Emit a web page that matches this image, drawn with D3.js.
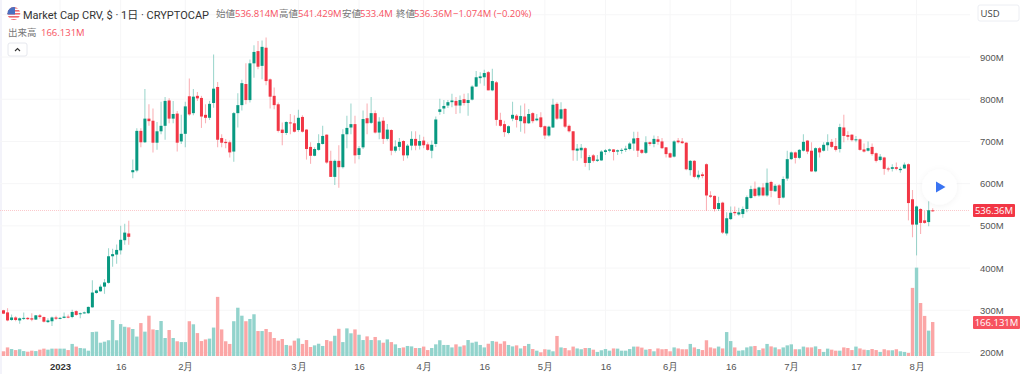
<!DOCTYPE html>
<html>
<head>
<meta charset="utf-8">
<script src="https://cdn.jsdelivr.net/npm/d3@7"></script>
<style>
    html, body {margin: 0; padding: 0; background: #fff;}
    svg {display: block; font-family: 'Open Sans', 'Noto Sans CJK JP', sans-serif;}
    .axis path, .axis line {display: none;}
    .axis text {fill: #555; font-size: 9.5px;}
</style>
</head>
<body>
<svg id="chart" width="1024" height="374"></svg>
<script>
const firstDay = '2022-12-18';

const opens = [
    300,295,277,283,276,280,282,281,278,288,284,272,274,283,280,282,285,284,298,291,293,293,307,341,345,356,365,428,432,442,466,482,
    627,631,725,698,754,749,697,724,737,797,754,766,700,718,807,767,808,803,763,756,791,829,708,699,698,676,
    767,786,836,798,885,914,879,922,847,808,788,728,720,745,743,727,758,728,687,666,680,694,716,654,616,654,639,
    717,733,741,668,686,755,744,767,721,749,706,727,678,687,701,667,690,706,690,702,693,678,694,770,778,785,793,796,785,800,
    791,799,830,850,852,864,821,840,751,741,720,754,761,748,759,743,767,750,757,736,714,733,789,754,777,737,724,678,679,684,
    649,667,654,655,675,678,681,676,678,680,682,695,708,680,673,698,694,705,
    700,686,672,664,702,700,697,632,654,615,622,646,572,571,540,555,482,516,533,527,528,540,566,588,572,591,572,604,582,596,
    567,612,658,674,661,678,702,678,629,684,678,691,699,689,682,733,715,716,703,705,681,678,687,672,656,662,636,635,639,632,
    636,646,563,503,540,513,509,536.814];
const highs = [
    301,305,290,286,283,295,284,293,289,291,285,281,285,287,284,295,290,301,300,295,297,309,371,349,361,374,447,446,456,500,505,512,
    657,731,731,824,788,778,746,794,805,802,796,772,763,794,849,824,817,808,788,796,906,841,717,706,702,770,
    814,846,885,894,928,938,939,946,849,828,792,745,748,765,762,775,762,729,698,686,717,737,717,678,657,691,729,
    761,790,761,689,773,790,805,773,757,757,741,729,703,708,703,694,724,724,716,711,698,702,759,801,798,798,813,805,809,813,
    814,833,867,864,870,867,872,843,768,749,738,794,765,785,790,777,769,765,769,738,737,801,793,793,779,740,725,694,694,686,
    668,670,668,679,682,683,682,681,684,690,698,723,723,682,712,700,714,713,
    708,687,674,703,708,708,698,656,656,631,627,648,582,572,569,557,532,546,546,543,546,572,595,605,593,601,636,607,599,599,
    617,678,676,676,682,717,703,698,686,687,698,717,706,708,742,763,724,717,713,707,695,700,695,674,670,664,640,646,650,640,
    650,648,585,548,542,536,558,541.429];
const lows = [
    291,274,275,274,268,277,277,274,277,280,271,270,263,277,279,281,281,281,287,281,292,292,306,339,344,339,363,403,410,432,455,455,
    613,627,686,696,737,674,680,717,704,743,743,676,694,686,761,762,796,732,743,751,780,686,686,684,662,652,
    733,773,788,792,851,871,847,833,778,776,721,691,715,717,721,723,721,657,647,665,678,693,647,616,597,590,636,
    684,717,648,658,682,717,741,719,705,694,702,667,674,678,654,660,679,679,681,684,678,660,687,763,765,779,781,765,767,785,
    761,797,829,837,832,821,819,737,735,711,717,748,733,723,719,741,743,748,732,706,711,732,751,752,732,721,654,654,660,640,
    632,650,651,654,668,674,655,668,671,675,679,678,663,670,670,690,686,692,
    682,662,661,662,695,694,632,619,613,610,613,536,566,534,535,481,477,514,524,524,519,532,564,568,569,570,569,568,580,550,
    565,607,656,648,658,676,670,628,627,662,676,678,684,676,674,698,703,700,698,678,674,676,666,650,653,621,629,629,632,626,
    635,513,473,430,481,505,499,533.4];
const closes = [
    292,276,283,277,281,282,279,278,288,284,273,276,283,280,282,285,283,296,289,293,295,308,342,347,356,366,428,433,443,467,484,474,
    632,725,698,754,748,697,724,737,796,754,765,697,718,783,764,806,802,759,756,789,825,704,697,696,674,767,
    786,838,798,885,912,877,924,843,806,786,725,720,746,743,723,756,723,682,666,682,696,713,650,616,654,639,717,
    732,741,667,684,753,743,767,721,747,706,728,678,688,699,667,690,706,690,701,691,680,692,752,776,784,793,797,785,798,791,
    798,830,852,854,862,821,843,751,737,722,736,763,751,760,743,765,748,754,734,714,735,787,754,776,735,724,679,683,685,649,
    663,654,657,676,679,681,675,679,680,683,695,707,678,673,698,694,706,699,
    684,670,662,700,698,696,634,654,616,621,618,572,569,540,554,484,518,531,530,532,540,568,587,571,591,572,602,583,595,566,
    611,658,674,661,680,699,676,629,684,674,692,698,687,680,734,713,711,703,705,680,676,684,670,654,664,635,634,639,635,635,
    645,554,503,546,507,507,537,536.36];
const volumes = [
    23,42,34,29,33,24,21,26,24,31,36,31,36,36,36,36,29,59,46,39,37,26,117,119,65,70,77,176,77,156,
    143,140,132,95,161,119,197,130,127,171,88,127,88,72,68,68,170,155,112,73,81,85,139,289,130,72,59,170,236,197,
    170,181,204,122,122,132,117,88,75,83,54,51,75,86,59,78,44,52,60,49,78,72,99,133,68,135,111,130,104,78,
    96,78,93,77,65,81,68,57,39,42,49,47,39,39,46,29,39,57,77,54,54,42,57,46,52,78,65,70,54,42,
    60,73,70,60,72,54,47,52,37,49,59,34,26,18,33,31,23,98,42,39,28,46,37,33,39,39,31,20,28,34,
    26,37,36,26,26,34,46,46,41,31,34,23,37,33,34,23,42,37,33,33,59,42,34,29,77,42,37,46,37,117,
    73,42,26,28,42,47,49,29,37,59,47,42,33,42,52,57,33,33,46,42,42,47,34,20,36,31,26,26,42,39,
    29,46,37,31,29,34,29,20,33,28,28,33,23,20,15,333,432,259,196,124,166.131];

const priceTicks = [200, 300, 400, 500, 600, 700, 800, 900];
const gridPrices = [200, 300, 400, 500, 600, 700, 800, 900, 1000];
const timeTicks = ['2023-01-01','2023-01-16','2023-02-01','2023-03-01','2023-03-16','2023-04-01','2023-04-16','2023-05-01','2023-05-16','2023-06-01','2023-06-16','2023-07-01','2023-07-17','2023-08-01'];
const timeLabels = ['2023','16','2月','3月','16','4月','16','5月','16','6月','16','7月','17','8月'];

const legendLabels = ['始値', '高値', '安値', '終値'];
const legendValues = ['536.814M', '541.429M', '533.4M', '536.36M'];
const lastPrice = 536.36;
const lastVolume = 166.131;

const width = 1024, height = 374;
const paneRight = 970;

const parseDay = d3.utcParse('%Y-%m-%d');
const days = d3.utcDay.range(parseDay(firstDay), d3.utcDay.offset(parseDay(firstDay), opens.length));

const xScale = d3.scaleUtc()
    .domain([days[0], days[days.length - 1]])
    .range([3.5, 932.7]);
const yScale = d3.scaleLinear()
    .domain([200, 900])
    .range([352.5, 57]);
const volScale = d3.scaleLinear()
    .domain([0, 460])
    .range([356, 261.9]);

const svg = d3.select('#chart');

const upColor = '#089981', downColor = '#f23645';
const isUp = i => closes[i] >= opens[i];

//faint edge on the left of the picture
svg.append('rect')
    .attr('width', 2).attr('height', height)
    .attr('fill', '#f3f3fa');

//grid
svg.append('g').selectAll('line')
    .data(timeTicks)
    .join('line')
        .attr('x1', d => xScale(parseDay(d)))
        .attr('x2', d => xScale(parseDay(d)))
        .attr('y1', 0)
        .attr('y2', 358)
        .attr('stroke', '#f6f6f7');
svg.append('g').selectAll('line')
    .data(gridPrices)
    .join('line')
        .attr('x1', 0)
        .attr('x2', paneRight)
        .attr('y1', d => yScale(d))
        .attr('y2', d => yScale(d))
        .attr('stroke', '#f6f6f7');

//volume
svg.append('g').selectAll('rect')
    .data(volumes)
    .join('rect')
        .attr('x', (d, i) => xScale(days[i]) - 1.7)
        .attr('width', 3.4)
        .attr('y', d => volScale(d))
        .attr('height', d => volScale(0) - volScale(d))
        .attr('fill', (d, i) => isUp(i) ? '#92d3cc' : '#fba6a6');

//last price line
svg.append('line')
    .attr('x1', 0)
    .attr('x2', paneRight)
    .attr('y1', yScale(lastPrice))
    .attr('y2', yScale(lastPrice))
    .attr('stroke', '#fbc9cc')
    .attr('stroke-dasharray', '1 1');

//candles
const candles = svg.append('g').selectAll('g')
    .data(days)
    .join('g');
candles.append('line')
    .attr('x1', d => xScale(d))
    .attr('x2', d => xScale(d))
    .attr('y1', (d, i) => yScale(highs[i]))
    .attr('y2', (d, i) => yScale(lows[i]))
    .attr('stroke', (d, i) => isUp(i) ? upColor : downColor)
    .attr('stroke-opacity', 0.38)
    .attr('stroke-width', 1.1);
candles.append('rect')
    .attr('x', d => xScale(d) - 1.5)
    .attr('width', 3)
    .attr('y', (d, i) => yScale(Math.max(opens[i], closes[i])))
    .attr('height', (d, i) => Math.max(1, Math.abs(yScale(opens[i]) - yScale(closes[i]))))
    .attr('fill', (d, i) => isUp(i) ? upColor : downColor);

//axes
svg.append('g')
    .classed('axis', true)
    .attr('transform', 'translate(974, 0)')
    .call(d3.axisRight(yScale).tickValues(priceTicks).tickSize(0).tickPadding(6).tickFormat(d => d + 'M'));

svg.append('g')
    .classed('axis axis--x', true)
    .attr('transform', 'translate(0, 358)')
    .call(d3.axisBottom(xScale)
        .tickValues(timeTicks.map(parseDay))
        .tickSize(0)
        .tickPadding(5)
        .tickFormat((d, i) => timeLabels[i]))
    .selectAll('text')
        .attr('font-weight', (d, i) => i === 0 ? 700 : 400)
        .style('fill', (d, i) => i === 0 ? '#333' : '#555');

//price labels on the axis
function axisLabel(y, text, color, left, w) {
    svg.append('rect')
        .attr('x', left).attr('y', y - 6.5)
        .attr('width', w).attr('height', 13)
        .attr('rx', 1)
        .attr('fill', color);
    svg.append('text')
        .attr('x', left + w / 2).attr('y', y + 3.5)
        .attr('text-anchor', 'middle')
        .attr('fill', '#fff')
        .attr('font-size', 9.5)
        .text(text);
}
axisLabel(yScale(lastPrice), legendValues[3], '#f23645', 973, 42);
axisLabel(volScale(lastVolume) + 0.5, lastVolume + 'M', '#f7525f', 973, 47);

//play button
const defs = svg.append('defs');
const shadow = defs.append('filter').attr('id', 'soft')
    .attr('x', '-50%').attr('y', '-50%').attr('width', '200%').attr('height', '200%');
shadow.append('feDropShadow')
    .attr('dx', 0).attr('dy', 1).attr('stdDeviation', 3)
    .attr('flood-color', '#000').attr('flood-opacity', 0.05);
svg.append('circle')
    .attr('cx', 939.5).attr('cy', 187).attr('r', 17.5)
    .attr('fill', '#fff')
    .attr('filter', 'url(#soft)');
svg.append('path')
    .attr('d', 'M936,181.5 L945.5,187 L936,192.5 Z')
    .attr('fill', '#3a74f2');

//USD box
svg.append('rect')
    .attr('x', 978).attr('y', 5).attr('width', 41).attr('height', 16)
    .attr('rx', 2).attr('fill', '#fff').attr('stroke', '#eceef3');
svg.append('text')
    .attr('x', 980.5).attr('y', 16.5)
    .attr('font-size', 9.5).attr('fill', '#444').text('USD');

//flag
const flagClip = defs.append('clipPath').attr('id', 'flag');
flagClip.append('circle').attr('cx', 13.8).attr('cy', 13.5).attr('r', 6.4);
const flag = svg.append('g').attr('clip-path', 'url(#flag)');
flag.append('rect').attr('x', 7).attr('y', 7).attr('width', 14).attr('height', 14).attr('fill', '#fff');
flag.selectAll('.stripe')
    .data([7, 10, 13, 16, 19])
    .join('rect')
        .classed('stripe', true)
        .attr('x', 7).attr('y', d => d)
        .attr('width', 14).attr('height', 1.6)
        .attr('fill', '#f0696e');
flag.append('rect').attr('x', 7).attr('y', 7).attr('width', 8).attr('height', 7.5).attr('fill', '#4a6fc0');

//legend
svg.append('text')
    .attr('x', 23).attr('y', 18.5)
    .attr('font-size', 11)
    .attr('font-family', "Roboto, 'Noto Sans CJK JP', sans-serif")
    .attr('fill', '#333')
    .text('Market Cap CRV, $ · 1日 · CRYPTOCAP');

const legendX = [216, 279, 342, 396];
const legendValueX = [235, 298, 360, 414];
legendLabels.forEach((label, i) => {
    svg.append('text')
        .attr('x', legendX[i]).attr('y', 17)
        .attr('font-size', 9.5).attr('fill', '#777')
        .text(label);
    svg.append('text')
        .attr('x', legendValueX[i]).attr('y', 17)
        .attr('font-size', 9.5).attr('fill', '#f7525f')
        .text(legendValues[i]);
});
svg.append('text')
    .attr('x', 453).attr('y', 17)
    .attr('font-size', 9.5).attr('fill', '#f7525f')
    .text('−1.074M (−0.20%)');

svg.append('text')
    .attr('x', 8).attr('y', 36)
    .attr('font-size', 9.5).attr('fill', '#777')
    .text('出来高');
svg.append('text')
    .attr('x', 41).attr('y', 36)
    .attr('font-size', 9.5).attr('fill', '#f7525f')
    .text(lastVolume + 'M');

//collapse button
svg.append('rect')
    .attr('x', 8).attr('y', 43).attr('width', 19).attr('height', 13)
    .attr('rx', 2).attr('fill', '#fff').attr('stroke', '#e6e8ee');
svg.append('path')
    .attr('d', 'M15,51 L17.5,48.5 L20,51')
    .attr('fill', 'none').attr('stroke', '#333').attr('stroke-width', 1.1);
</script>
</body>
</html>
